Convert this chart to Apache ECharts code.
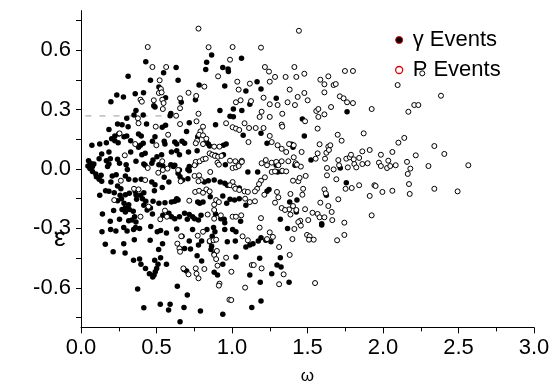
<!DOCTYPE html>
<html>
<head>
<meta charset="utf-8">
<script src="https://cdn.jsdelivr.net/npm/echarts@6/dist/echarts.min.js"></script>
<style>
  html, body { margin: 0; padding: 0; background: #fff; }
  #main { width: 552px; height: 385px; }
</style>
</head>
<body>
<div id="main"></div>
<script>
// gamma events (filled dots), [omega, epsilon]
var gammaEvents = [
  [0.429,0.542],[0.312,0.468],[0.547,0.486],[0.460,0.448],[0.516,0.414],[0.237,0.374],[0.281,0.364],
  [0.359,0.380],[0.414,0.385],[0.198,0.340],[0.560,0.360],[0.482,0.320],[0.490,0.313],[0.364,0.296],
  [0.351,0.273],[0.412,0.273],[0.303,0.256],[0.590,0.269],[0.595,0.280],
  [0.865,0.576],[1.063,0.559],[0.832,0.539],[0.630,0.512],[0.826,0.502],[0.939,0.512],[0.974,0.505],
  [0.976,0.492],[0.643,0.448],[1.166,0.441],[0.782,0.424],[0.952,0.419],[1.092,0.394],[1.192,0.404],
  [0.758,0.350],[0.664,0.337],[1.118,0.327],[0.920,0.296],[1.009,0.303],[1.065,0.295],[0.987,0.266],
  [1.009,0.264],[1.293,0.357],[1.762,0.289],[1.466,0.253],
  [0.242,0.227],[0.272,0.224],[0.312,0.214],[0.434,0.227],[0.538,0.211],[0.560,0.221],[0.185,0.200],
  [0.250,0.177],[0.224,0.167],[0.203,0.153],[0.285,0.163],[0.303,0.167],[0.381,0.177],[0.399,0.167],
  [0.490,0.163],[0.072,0.120],[0.124,0.126],[0.168,0.133],[0.224,0.143],[0.246,0.133],[0.329,0.143],
  [0.394,0.120],[0.412,0.130],[0.381,0.110],[0.473,0.140],[0.551,0.140],[0.556,0.126],[0.185,0.086],
  [0.137,0.076],[0.329,0.086],[0.403,0.072],[0.425,0.079],[0.503,0.062],[0.534,0.072],[0.599,0.086],
  [0.050,0.042],[0.063,0.029],[0.046,0.015],[0.076,0.012],[0.059,0.002],[0.085,0.025],[0.120,0.052],
  [0.168,0.042],[0.194,0.052],[0.185,0.025],[0.176,0.012],[0.242,0.049],[0.255,0.029],[0.299,0.022],
  [0.307,-0.002],[0.364,0.039],[0.416,0.025],[0.425,0.019],[0.469,0.029],[0.477,0.045],[0.516,0.022],
  [0.542,0.015],[0.595,0.022],[0.612,0.012],[0.076,-0.012],[0.098,-0.025],[0.102,-0.039],[0.120,-0.052],
  [0.137,-0.062],[0.133,-0.032],[0.207,-0.035],[0.233,-0.029],[0.198,-0.066],[0.294,-0.035],[0.316,-0.052],
  [0.359,-0.056],[0.399,-0.052],[0.469,-0.066],[0.490,-0.079],[0.551,-0.042],[0.582,-0.066],[0.538,-0.093],
  [0.242,-0.086],[0.264,-0.100],[0.163,-0.110],[0.185,-0.113],[0.220,-0.120],[0.124,-0.133],[0.259,-0.133],
  [0.294,-0.130],[0.320,-0.123],[0.359,-0.113],[0.364,-0.130],[0.394,-0.133],[0.416,-0.120],[0.486,-0.110],
  [0.242,-0.160],[0.268,-0.150],[0.285,-0.173],[0.316,-0.180],[0.294,-0.197],[0.368,-0.153],[0.407,-0.150],
  [0.429,-0.163],[0.416,-0.183],[0.477,-0.163],[0.516,-0.173],[0.556,-0.170],[0.599,-0.167],[0.142,-0.227],
  [0.216,-0.210],[0.194,-0.264],[0.255,-0.254],[0.272,-0.204],[0.294,-0.217],[0.320,-0.204],[0.346,-0.214],
  [0.355,-0.241],[0.438,-0.207],[0.460,-0.197],[0.473,-0.227],[0.542,-0.234],[0.582,-0.224],[0.599,-0.241],
  [0.316,-0.261],[0.338,-0.258],[0.364,-0.268],
  [0.717,0.234],[0.891,0.224],[0.699,0.190],[1.074,0.170],[1.192,0.180],[0.621,0.136],[0.634,0.126],
  [0.669,0.140],[0.686,0.130],[0.773,0.163],[0.830,0.140],[0.852,0.116],[0.843,0.126],[0.943,0.120],
  [0.961,0.126],[1.232,0.130],[0.634,0.092],[0.652,0.072],[0.712,0.086],[0.769,0.092],[0.891,0.069],
  [0.943,0.072],[0.621,0.019],[0.652,-0.005],[0.643,-0.022],[0.656,-0.039],[0.673,-0.056],[0.717,0.012],
  [0.717,-0.009],[0.708,-0.002],[0.760,0.025],[0.956,0.022],[1.105,-0.015],[1.170,-0.015],[1.232,-0.113],
  [1.245,-0.103],[0.708,-0.049],[0.817,-0.066],[0.843,-0.059],[0.882,-0.056],[0.922,-0.066],[0.952,-0.072],
  [0.969,-0.082],[1.048,-0.096],[0.634,-0.150],[0.621,-0.163],[0.643,-0.157],[0.773,-0.167],[0.786,-0.173],
  [0.808,-0.167],[0.856,-0.140],[0.939,-0.136],[0.987,-0.153],[0.965,-0.173],[1.017,-0.157],[1.048,-0.150],
  [1.092,-0.183],[0.686,-0.224],[0.717,-0.230],[0.739,-0.241],[0.752,-0.251],[0.795,-0.234],[0.778,-0.258],
  [0.704,-0.254],[0.621,-0.251],[0.652,-0.241],[0.891,-0.227],[0.926,-0.251],[0.948,-0.254],[1.057,-0.264],
  [0.952,-0.271],
  [1.479,0.167],[1.395,0.125],[1.404,0.110],[1.523,0.045],[1.293,0.019],[1.417,0.019],[1.717,0.005],
  [1.302,-0.015],[1.329,-0.012],[1.757,-0.069],[1.625,-0.133],[1.382,-0.167],[1.430,-0.157],[1.426,-0.217],
  [1.320,-0.254],[1.594,-0.276],
  [0.139,-0.317],[0.196,-0.306],[0.231,-0.313],[0.283,-0.296],[0.305,-0.313],[0.348,-0.306],[0.361,-0.296],
  [0.388,-0.300],[0.462,-0.290],[0.505,-0.317],[0.527,-0.310],[0.566,-0.323],[0.161,-0.380],[0.213,-0.418],
  [0.283,-0.377],[0.292,-0.424],[0.353,-0.357],[0.458,-0.360],[0.540,-0.377],[0.514,-0.407],[0.527,-0.448],
  [0.348,-0.461],[0.388,-0.455],[0.397,-0.481],[0.427,-0.502],[0.453,-0.529],[0.475,-0.545],[0.484,-0.535],
  [0.492,-0.519],[0.501,-0.502],[0.510,-0.481],[0.488,-0.461],[0.566,-0.481],[0.375,-0.606],
  [0.416,-0.701],[0.525,-0.683],[0.590,-0.683],[0.580,-0.712],
  [0.634,-0.303],[0.669,-0.340],[0.717,-0.364],[0.739,-0.306],[0.686,-0.401],[0.725,-0.404],[0.799,-0.364],
  [0.778,-0.384],[0.834,-0.306],[0.878,-0.296],[0.887,-0.317],[0.869,-0.340],[0.852,-0.367],[0.865,-0.390],
  [0.861,-0.407],[0.882,-0.428],[0.952,-0.306],[1.004,-0.306],[1.026,-0.317],[0.969,-0.367],[1.022,-0.364],
  [0.769,-0.438],[0.799,-0.465],[1.026,-0.444],[0.939,-0.481],[1.092,-0.394],[1.118,-0.384],[1.139,-0.377],
  [1.174,-0.364],[1.192,-0.347],[1.224,-0.360],[1.258,-0.367],[1.183,-0.451],[0.682,-0.508],[0.699,-0.515],
  [0.882,-0.522],[0.904,-0.535],[1.118,-0.535],[1.263,-0.529],[0.638,-0.592],[1.187,-0.572],[0.704,-0.636],
  [1.192,-0.667],[1.131,-0.700],[0.682,-0.700],[0.791,-0.717],[0.939,-0.734],[0.656,-0.771],
  [1.368,-0.300],[1.594,-0.283],[1.320,-0.448],[1.298,-0.485],[1.325,-0.495],[1.378,-0.572]
];

// P events (open circles), [omega, epsilon]
var pEvents = [
  [0.442,0.616],[0.473,0.515],[0.564,0.515],[0.521,0.448],[0.529,0.404],[0.516,0.384],[0.534,0.387],
  [0.394,0.350],[0.403,0.340],[0.482,0.347],[0.538,0.350],[0.547,0.333],[0.542,0.303],[0.377,0.256],
  [0.778,0.709],[0.845,0.615],[1.004,0.616],[1.192,0.613],[0.987,0.552],[1.218,0.515],[1.245,0.492],
  [0.908,0.468],[1.035,0.441],[1.118,0.431],[1.250,0.441],[0.817,0.416],[1.044,0.401],[0.712,0.385],
  [0.763,0.369],[0.656,0.357],[1.026,0.337],[1.057,0.347],[1.126,0.343],[1.209,0.360],[1.250,0.327],
  [0.656,0.307],[1.196,0.289],[0.778,0.279],[0.630,0.269],[1.183,0.263],[1.250,0.263],
  [1.443,0.698],[1.413,0.515],[1.285,0.465],[1.355,0.465],[1.426,0.465],[1.479,0.481],[1.585,0.451],
  [1.638,0.468],[1.612,0.428],[1.673,0.424],[1.687,0.429],[1.748,0.495],[1.801,0.495],[1.382,0.401],
  [1.479,0.384],[1.612,0.387],[1.435,0.364],[1.368,0.337],[1.501,0.347],[1.714,0.367],[1.739,0.357],
  [1.762,0.337],[1.801,0.333],[1.302,0.323],[1.417,0.323],[1.656,0.313],[1.925,0.303],[1.333,0.279],
  [1.558,0.293],[1.572,0.303],[1.612,0.276],[1.572,0.263],
  [2.260,0.483],[2.097,0.424],[2.384,0.370],[2.207,0.323],[2.234,0.323],[2.168,0.289],
  [0.381,0.231],[0.495,0.214],[0.255,0.180],[0.577,0.173],[0.359,0.126],[0.499,0.120],[0.290,0.069],
  [0.442,0.005],[0.538,0.039],[0.512,-0.019],[0.542,-0.005],[0.573,0.002],[0.264,-0.059],[0.425,-0.056],
  [0.220,-0.157],[0.351,-0.100],[0.381,-0.103],[0.447,-0.190],[0.394,-0.241],[0.556,-0.210],[0.525,-0.254],
  [0.569,-0.241],
  [0.656,0.227],[0.765,0.241],[0.808,0.214],[0.961,0.231],[1.004,0.211],[1.026,0.204],[1.048,0.197],
  [1.083,0.231],[1.113,0.207],[1.157,0.207],[1.209,0.207],[0.791,0.190],[0.782,0.173],[0.808,0.170],
  [0.830,0.153],[1.250,0.167],[0.769,0.143],[0.760,0.130],[0.808,0.126],[0.882,0.113],[0.917,0.113],
  [1.109,0.136],[1.263,0.136],[0.852,0.079],[0.869,0.072],[0.887,0.066],[0.908,0.062],[0.930,0.066],
  [0.904,0.032],[0.913,0.022],[0.987,0.042],[1.022,0.039],[1.057,0.032],[1.065,0.042],[1.224,0.045],
  [1.196,0.029],[1.232,0.019],[1.263,0.032],[1.263,-0.015],[0.643,-0.005],[0.660,-0.062],[0.760,0.036],
  [0.786,0.039],[0.808,0.049],[0.826,0.052],[0.752,0.019],[1.004,0.005],[1.026,0.008],[1.044,0.015],
  [1.065,0.036],[1.218,-0.042],[1.192,-0.059],[1.179,-0.076],[1.166,-0.100],[1.214,-0.130],[0.752,-0.035],
  [0.782,-0.032],[0.795,-0.056],[0.778,-0.062],[0.856,-0.015],[1.004,-0.066],[0.987,-0.082],[1.013,-0.089],
  [1.022,-0.100],[1.048,-0.106],[1.083,-0.113],[1.105,-0.116],[1.152,-0.113],[0.717,-0.160],[0.756,-0.116],
  [0.782,-0.110],[0.808,-0.120],[0.830,-0.103],[0.852,-0.113],[0.895,-0.157],[0.913,-0.167],[0.882,-0.180],
  [1.087,-0.150],[1.118,-0.167],[1.152,-0.163],[0.839,-0.230],[0.882,-0.207],[0.926,-0.234],[0.882,-0.251],
  [1.004,-0.241],[1.026,-0.241],[1.061,-0.234],[1.192,-0.248],
  [1.329,0.224],[1.333,0.214],[1.484,0.241],[1.567,0.204],[1.700,0.173],[1.872,0.180],[1.726,0.143],
  [1.302,0.120],[1.329,0.102],[1.378,0.126],[1.409,0.120],[1.359,0.086],[1.409,0.059],[1.461,0.086],
  [1.580,0.125],[1.567,0.079],[1.625,0.082],[1.638,0.113],[1.651,0.120],[1.642,0.096],[1.616,0.052],
  [1.629,0.005],[1.554,0.052],[1.293,0.036],[1.329,0.039],[1.307,0.019],[1.373,0.039],[1.422,0.029],
  [1.456,0.012],[1.430,0.022],[1.704,0.045],[1.757,0.052],[1.780,0.059],[1.788,0.072],[1.806,0.049],
  [1.842,0.056],[1.863,0.089],[1.912,0.096],[1.709,0.019],[1.767,0.008],[1.810,0.025],[1.823,0.008],
  [1.863,0.025],[1.898,0.029],[1.673,-0.002],[1.285,-0.012],[1.333,-0.009],[1.359,-0.012],[1.629,-0.032],
  [1.691,-0.052],[1.404,-0.059],[1.439,-0.062],[1.448,-0.045],[1.488,-0.035],[1.752,-0.100],[1.793,-0.096],
  [1.842,-0.082],[1.943,-0.082],[1.471,-0.100],[1.612,-0.103],[1.621,-0.123],[1.912,-0.136],[1.298,-0.116],
  [1.307,-0.143],[1.285,-0.170],[1.387,-0.126],[1.466,-0.130],[1.329,-0.197],[1.704,-0.153],[1.585,-0.170],
  [1.638,-0.187],[1.404,-0.187],[1.378,-0.204],[1.351,-0.207],[1.387,-0.230],[1.426,-0.207],[1.484,-0.203],
  [1.533,-0.221],[1.567,-0.227],[1.505,-0.258],[1.452,-0.261],[1.439,-0.268],[1.580,-0.244],[1.612,-0.244],
  [1.660,-0.217],[1.664,-0.258],[1.744,-0.271],[1.925,-0.234],
  [2.141,0.157],[2.102,0.133],[2.340,0.116],[1.986,0.072],[2.062,0.086],[2.217,0.069],[2.406,0.076],
  [1.973,0.032],[1.986,0.015],[2.035,0.042],[2.027,0.005],[2.048,0.015],[2.084,0.019],[2.159,0.036],
  [2.181,0.002],[2.301,0.015],[2.565,0.019],[2.164,-0.025],[1.951,-0.086],[1.996,-0.116],[2.062,-0.110],
  [2.172,-0.076],[2.177,-0.126],[2.340,-0.100],[2.494,-0.113],
  [0.664,-0.340],[0.638,-0.377],[0.652,-0.401],[0.656,-0.418],[0.773,-0.337],[0.808,-0.317],[0.852,-0.364],
  [0.878,-0.360],[0.895,-0.357],[0.900,-0.414],[0.882,-0.434],[0.895,-0.455],[0.904,-0.488],[0.961,-0.448],
  [1.070,-0.340],[1.105,-0.360],[1.183,-0.296],[1.250,-0.320],[1.232,-0.354],[1.271,-0.343],[0.678,-0.502],
  [0.760,-0.502],[0.817,-0.505],[0.765,-0.529],[0.778,-0.552],[0.712,-0.532],[0.996,-0.519],[1.131,-0.485],
  [1.144,-0.485],[1.196,-0.502],[0.917,-0.579],[0.913,-0.589],[1.087,-0.599],[0.983,-0.660],[0.995,-0.662],
  [1.413,-0.303],[1.456,-0.286],[1.400,-0.354],[1.497,-0.333],[1.514,-0.340],[1.510,-0.357],[1.541,-0.357],
  [1.696,-0.360],[1.744,-0.333],[1.312,-0.394],[1.382,-0.434],[1.342,-0.532],[1.312,-0.582],[1.550,-0.576]
];

// grey dashed guide near the top-left
var dashLine = [[0.03, 0.268], [0.55, 0.268]];

var xTicks = [0, 0.5, 1.0, 1.5, 2.0, 2.5, 3.0];
var yLabels = [-0.6, -0.3, 0, 0.3, 0.6];
var yTickMarks = [-0.75, -0.6, -0.45, -0.3, -0.15, 0, 0.15, 0.3, 0.45, 0.6, 0.75];

var font = 'Liberation Sans, Arial, sans-serif';
var chart = echarts.init(document.getElementById('main'));

var option = {
  backgroundColor: '#fff',
  animation: false,
  grid: { left: 81, right: 18, top: 10.6, bottom: 57.6, outerBoundsMode: 'none' },
  legend: {
    orient: 'vertical',
    left: 390,
    top: 24,
    itemWidth: 7,
    itemHeight: 7,
    itemGap: 8,
    textStyle: { fontSize: 22, fontFamily: font, color: '#000', padding: [0, 0, 0, 5] },
    data: [
      { name: 'γ Events', icon: 'circle', itemStyle: { color: '#000', borderColor: '#e00000', borderWidth: 1 } },
      { name: 'P Events', icon: 'circle', itemStyle: { color: '#fff', borderColor: '#e00000', borderWidth: 1.3 } }
    ]
  },
  xAxis: {
    type: 'value',
    min: xTicks[0],
    max: xTicks[xTicks.length - 1],
    interval: 0.5,
    name: 'ω',
    nameLocation: 'middle',
    nameGap: 40,
    nameTextStyle: { fontSize: 17, fontFamily: font, color: '#000' },
    splitLine: { show: false },
    axisLine: { onZero: false, lineStyle: { color: '#000', width: 1 } },
    axisTick: { show: true, length: 6, lineStyle: { color: '#000' } },
    minorTick: { show: true, splitNumber: 2, length: 4, lineStyle: { color: '#000' } },
    axisLabel: {
      fontSize: 22, fontFamily: font, color: '#000', margin: 10,
      formatter: function (v) { return v.toFixed(1); }
    }
  },
  yAxis: {
    type: 'value',
    min: -0.8,
    max: 0.8,
    splitLine: { show: false },
    axisLine: { show: true, onZero: false, lineStyle: { color: '#000', width: 1 } },
    axisTick: { show: true, length: 5, customValues: yTickMarks, lineStyle: { color: '#000' } },
    axisLabel: {
      customValues: yLabels,
      fontSize: 22, fontFamily: font, color: '#000', margin: 10,
      formatter: function (v) { return v.toFixed(1); }
    }
  },
  graphic: [
    {
      type: 'text', left: 54, top: 226,
      style: { text: 'ε', fontSize: 26, fontFamily: font, fill: '#000' }
    }
  ],
  series: [
    {
      name: 'dash',
      type: 'line',
      data: dashLine,
      symbol: 'none',
      silent: true,
      lineStyle: { color: '#999', width: 1, type: [6, 8] },
      z: 1
    },
    {
      name: 'γ Events',
      type: 'scatter',
      data: gammaEvents,
      symbol: 'circle',
      symbolSize: 5.5,
      itemStyle: { color: '#000', opacity: 1 }
    },
    {
      name: 'P Events',
      type: 'scatter',
      data: pEvents,
      symbol: 'circle',
      symbolSize: 5,
      itemStyle: { color: '#fff', borderColor: '#000', borderWidth: 1, opacity: 1 }
    }
  ]
};

chart.setOption(option);
</script>
</body>
</html>
